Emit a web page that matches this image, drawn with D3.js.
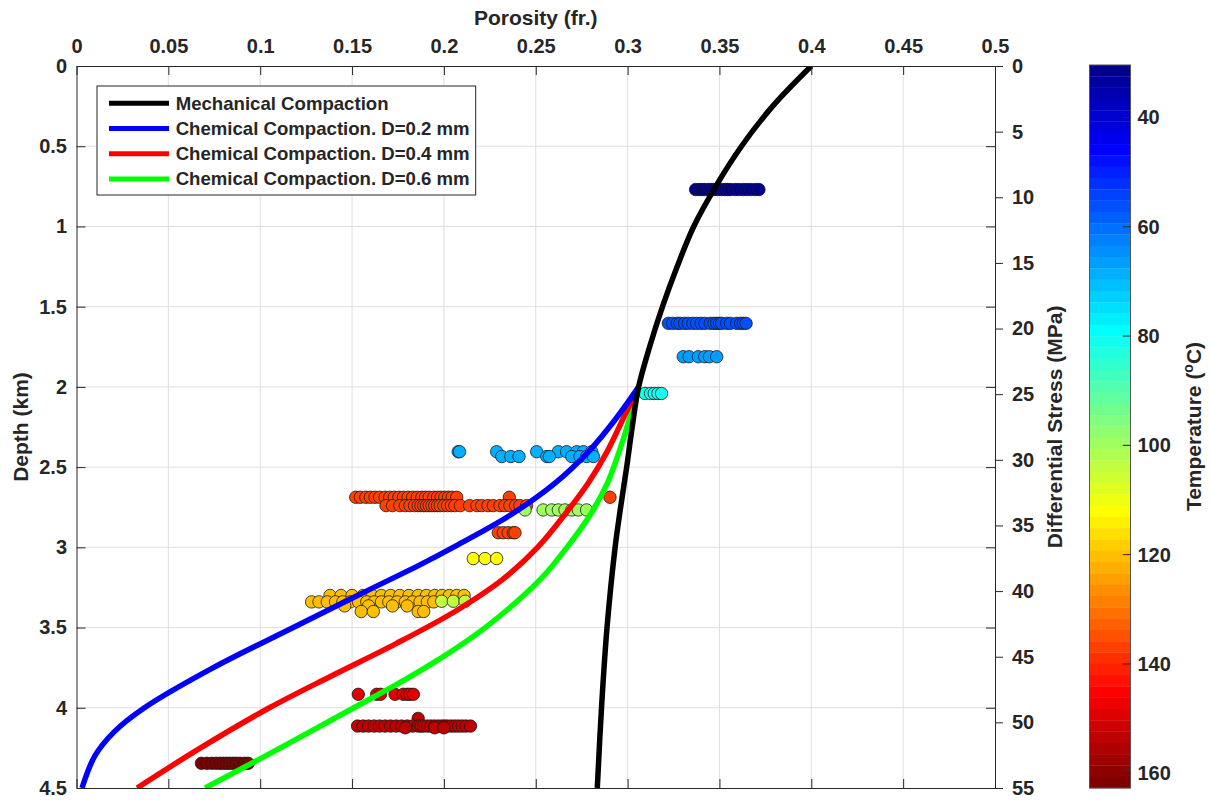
<!DOCTYPE html>
<html>
<head>
<meta charset="utf-8">
<script src="https://cdn.jsdelivr.net/npm/d3@7"></script>
<style>
  body { margin: 0; background: #fff; }
  text { font-family: "Liberation Sans", Arial, Helvetica, sans-serif; font-weight: bold; fill: #262626; }
</style>
</head>
<body>
<svg id="chart" width="1210" height="800"></svg>
<script>
// ---- Axis ticks ----
const porosityTicks = [0, 0.05, 0.1, 0.15, 0.2, 0.25, 0.3, 0.35, 0.4, 0.45, 0.5];
const depthTicks = [0, 0.5, 1, 1.5, 2, 2.5, 3, 3.5, 4, 4.5];
const stressTicks = [0, 5, 10, 15, 20, 25, 30, 35, 40, 45, 50, 55];
const temperatureTicks = [40, 60, 80, 100, 120, 140, 160];

// ---- Compaction trends (depth in km, porosity in fr.) ----
const mechDepth    = [0, 0.25, 0.5, 0.75, 1.0, 1.25, 1.5, 1.75, 2.0, 2.25, 2.5, 2.75, 3.0, 3.5, 4.0, 4.5];
const mechPorosity = [0.400, 0.379, 0.362, 0.348, 0.336, 0.327, 0.319, 0.312, 0.306, 0.3025, 0.2995, 0.2962, 0.2932, 0.2888, 0.2858, 0.2835];

const chem02Depth    = [2.0, 2.2, 2.4, 2.6, 2.8, 3.0, 3.1, 3.3, 3.5, 3.75, 4.0, 4.15, 4.3, 4.5];
const chem02Porosity = [0.306, 0.2935, 0.279, 0.2605, 0.236, 0.205, 0.1885, 0.153, 0.118, 0.0745, 0.037, 0.0205, 0.010, 0.003];

const chem04Depth    = [2.0, 2.2, 2.4, 2.6, 2.8, 3.0, 3.2, 3.4, 3.6, 3.8, 4.0, 4.25, 4.5];
const chem04Porosity = [0.306, 0.2975, 0.289, 0.2785, 0.2655, 0.251, 0.232, 0.206, 0.174, 0.139, 0.105, 0.0675, 0.033];

const chem06Depth    = [2.0, 2.2, 2.4, 2.6, 2.8, 3.0, 3.2, 3.5, 3.7, 3.85, 4.0, 4.25, 4.5];
const chem06Porosity = [0.306, 0.301, 0.2955, 0.289, 0.2795, 0.267, 0.2525, 0.2225, 0.197, 0.175, 0.151, 0.111, 0.070];

// ---- Core samples, grouped in rows of equal depth and temperature ----
const sampleRowDepth       = [0.770, 1.604, 1.812, 2.041, 2.404, 2.434, 2.688, 2.740, 2.767, 2.909, 3.070,
                              3.300, 3.340, 3.336, 3.365, 3.400, 3.916, 4.066, 4.114, 4.125, 4.346];
const sampleRowTemperature = [32, 57, 67, 81, 69, 69.5, 137, 136.5, 100, 137, 112,
                              120, 121, 104, 120, 121, 149, 153, 153, 154, 162];
const sampleRowPorosity = [
  [0.3370, 0.3390, 0.3405, 0.3420, 0.3440, 0.3455, 0.3470, 0.3490, 0.3510, 0.3530, 0.3545, 0.3560, 0.3585, 0.3605, 0.3630, 0.3650, 0.3670, 0.3695, 0.3715],
  [0.3222, 0.3245, 0.3270, 0.3285, 0.3310, 0.3330, 0.3355, 0.3376, 0.3400, 0.3421, 0.3450, 0.3470, 0.3485, 0.3500, 0.3512, 0.3540, 0.3560, 0.3594, 0.3615, 0.3630, 0.3645],
  [0.3303, 0.3335, 0.3385, 0.3420, 0.3445, 0.3485],
  [0.3095, 0.3125, 0.3145, 0.3165, 0.3185],
  [0.2078, 0.2085, 0.2287, 0.2505, 0.2623, 0.2668, 0.2723, 0.2759, 0.2805],
  [0.2315, 0.2364, 0.2409, 0.2560, 0.2574, 0.2696, 0.2741, 0.2777, 0.2814],
  [0.1520, 0.1545, 0.1575, 0.1600, 0.1625, 0.1650, 0.1680, 0.1705, 0.1730, 0.1755, 0.1780, 0.1805, 0.1830, 0.1855, 0.1880, 0.1900, 0.1920, 0.1945, 0.1965, 0.1985, 0.2005, 0.2025, 0.2045, 0.2070, 0.2356, 0.2904],
  [0.1685, 0.1720, 0.1760, 0.1790, 0.1815, 0.1840, 0.1860, 0.1875, 0.1890, 0.1905, 0.1920, 0.1935, 0.1950, 0.1965, 0.1980, 0.2000, 0.2020, 0.2040, 0.2060, 0.2090, 0.2140, 0.2180, 0.2206, 0.2240, 0.2269, 0.2305, 0.2332, 0.2359, 0.2390, 0.2414, 0.2450],
  [0.2442, 0.2540, 0.2587, 0.2623, 0.2659, 0.2696, 0.2732, 0.2777],
  [0.2296, 0.2323, 0.2350, 0.2378, 0.2387],
  [0.2160, 0.2224, 0.2287],
  [0.1380, 0.1440, 0.1500, 0.1560, 0.1610, 0.1660, 0.1710, 0.1760, 0.1810, 0.1860, 0.1905, 0.1950, 0.1990, 0.2030, 0.2070, 0.2110],
  [0.1280, 0.1320, 0.1365, 0.1410, 0.1450, 0.1490, 0.1535, 0.1580, 0.1620, 0.1660, 0.1700, 0.1745, 0.1790, 0.1830, 0.1870, 0.1910, 0.1945],
  [0.1988, 0.2051, 0.2115],
  [0.1460, 0.1590, 0.1720, 0.1800],
  [0.1550, 0.1616, 0.1860, 0.1890],
  [0.1534, 0.1634, 0.1655, 0.1734, 0.1779, 0.1800, 0.1815, 0.1834],
  [0.1860],
  [0.1530, 0.1560, 0.1590, 0.1620, 0.1650, 0.1680, 0.1710, 0.1740, 0.1770, 0.1800, 0.1830, 0.1860, 0.1875, 0.1890, 0.1910, 0.1930, 0.1950, 0.1970, 0.1990, 0.2005, 0.2020, 0.2040, 0.2060, 0.2080, 0.2100, 0.2120, 0.2145],
  [0.1790, 0.1950, 0.2000],
  [0.0680, 0.0710, 0.0736, 0.0760, 0.0781, 0.0800, 0.0818, 0.0835, 0.0854, 0.0870, 0.0890, 0.0915, 0.0935]
];

const temperatureLimits = [30.4, 162.7];

const legendLabels = ["Mechanical Compaction", "Chemical Compaction. D=0.2 mm",
                      "Chemical Compaction. D=0.4 mm", "Chemical Compaction. D=0.6 mm"];
const trendColors = ["#000000", "#0000ff", "#ff0000", "#00ff00"];

// ---- Layout ----
const plot = { left: 76.5, right: 995, top: 66, bottom: 788 };
const cbar = { left: 1089.5, right: 1130.5, top: 65, bottom: 788 };
const AXIS = "#262626";

const svg = d3.select("#chart");

const x = d3.scaleLinear().domain([0, 0.5]).range([plot.left, plot.right]);
const y = d3.scaleLinear().domain([0, 4.5]).range([plot.top, plot.bottom]);
const yStress = d3.scaleLinear().domain([0, 55]).range([plot.top, plot.bottom]);
const yTemp = d3.scaleLinear().domain(temperatureLimits).range([cbar.top, cbar.bottom]);

// MATLAB-style jet colormap with m entries
function jetColormap(m) {
  const n = Math.ceil(m / 4);
  const u = [];
  for (let j = 1; j <= n; j++) u.push(j / n);
  for (let j = 1; j < n; j++) u.push(1);
  for (let j = n; j >= 1; j--) u.push(j / n);
  const off = Math.ceil(n / 2) - (m % 4 === 1 ? 1 : 0);
  const val = i => (i >= 1 && i <= u.length) ? u[i - 1] : 0;
  const cols = [];
  for (let k = 1; k <= m; k++) {
    cols.push(d3.rgb(Math.round(255 * val(k - off - n)), Math.round(255 * val(k - off)), Math.round(255 * val(k - off + n))).formatHex());
  }
  return cols;
}
const jet = jetColormap(64);
const tempColor = t => {
  const f = (t - temperatureLimits[0]) / (temperatureLimits[1] - temperatureLimits[0]);
  return jet[Math.max(0, Math.min(63, Math.floor(f * 64)))];
};

// ---- Grid ----
const grid = svg.append("g").attr("stroke", "#dfdfdf").attr("stroke-width", 1);
grid.selectAll("line.gx").data(porosityTicks.slice(1, -1)).join("line")
  .attr("x1", d => x(d)).attr("x2", d => x(d)).attr("y1", plot.top).attr("y2", plot.bottom);
grid.selectAll("line.gy").data(depthTicks.slice(1, -1)).join("line")
  .attr("x1", plot.left).attr("x2", plot.right).attr("y1", d => y(d)).attr("y2", d => y(d));

// ---- Clip ----
svg.append("clipPath").attr("id", "plotClip").append("rect")
  .attr("x", plot.left).attr("y", plot.top)
  .attr("width", plot.right - plot.left).attr("height", plot.bottom - plot.top);

const plotG = svg.append("g").attr("clip-path", "url(#plotClip)");

// ---- Samples ----
const samples = [];
sampleRowPorosity.forEach((row, i) => {
  row.forEach(p => samples.push({ p, d: sampleRowDepth[i], t: sampleRowTemperature[i] }));
});
plotG.append("g").selectAll("circle").data(samples).join("circle")
  .attr("cx", s => x(s.p)).attr("cy", s => y(s.d)).attr("r", 6.2)
  .attr("fill", s => tempColor(s.t))
  .attr("stroke", "#1a1a1a").attr("stroke-width", 0.8);

// ---- Trend curves ----
const trends = [
  { depth: mechDepth, por: mechPorosity },
  { depth: chem02Depth, por: chem02Porosity },
  { depth: chem04Depth, por: chem04Porosity },
  { depth: chem06Depth, por: chem06Porosity }
];
const line = d3.line().x(d => x(d[0])).y(d => y(d[1])).curve(d3.curveCatmullRom.alpha(0.5));
// chemical curves first, mechanical on top
[3, 2, 1, 0].forEach(i => {
  const tr = trends[i];
  plotG.append("path")
    .attr("d", line(tr.depth.map((z, k) => [tr.por[k], z])))
    .attr("fill", "none").attr("stroke", trendColors[i]).attr("stroke-width", 5.5);
});

// ---- Axes ----
const fmt = d => String(d);
const topAxis = svg.append("g").attr("transform", `translate(0,${plot.top})`)
  .call(d3.axisTop(x).tickValues(porosityTicks).tickFormat(fmt).tickSizeInner(-9).tickSizeOuter(0).tickPadding(13));
const bottomAxis = svg.append("g").attr("transform", `translate(0,${plot.bottom})`)
  .call(d3.axisBottom(x).tickValues(porosityTicks).tickFormat("").tickSizeInner(-9).tickSizeOuter(0));
const leftAxis = svg.append("g").attr("transform", `translate(${plot.left},0)`)
  .call(d3.axisLeft(y).tickValues(depthTicks).tickFormat(fmt).tickSizeInner(-9).tickSizeOuter(0).tickPadding(9.5));
const rightInner = svg.append("g").attr("transform", `translate(${plot.right},0)`)
  .call(d3.axisRight(y).tickValues(depthTicks).tickFormat("").tickSizeInner(-9).tickSizeOuter(0));
const rightAxis = svg.append("g").attr("transform", `translate(${plot.right},0)`)
  .call(d3.axisRight(yStress).tickValues(stressTicks).tickFormat(fmt).tickSizeInner(8).tickSizeOuter(0).tickPadding(9));

[topAxis, bottomAxis, leftAxis, rightInner, rightAxis].forEach(g => {
  g.select(".domain").attr("stroke", AXIS).attr("stroke-width", 1);
  g.selectAll(".tick line").attr("stroke", AXIS).attr("stroke-width", 1);
  g.selectAll(".tick text").attr("font-size", 20).attr("fill", AXIS)
    .attr("font-family", '"Liberation Sans", Arial, sans-serif').attr("font-weight", "bold");
});

// ---- Axis titles ----
svg.append("text").attr("x", (plot.left + plot.right) / 2).attr("y", 25)
  .attr("text-anchor", "middle").attr("font-size", 21).text("Porosity (fr.)");
svg.append("text").attr("transform", `translate(28,${(plot.top + plot.bottom) / 2}) rotate(-90)`)
  .attr("text-anchor", "middle").attr("font-size", 21).text("Depth (km)");
svg.append("text").attr("transform", `translate(1062,${(plot.top + plot.bottom) / 2}) rotate(-90)`)
  .attr("text-anchor", "middle").attr("font-size", 21).text("Differential Stress (MPa)");

// ---- Legend ----
const legend = svg.append("g");
const legendBox = legend.append("rect").attr("x", 97).attr("y", 86).attr("height", 109)
  .attr("fill", "#fff").attr("stroke", AXIS).attr("stroke-width", 1);
let maxLen = 0;
legendLabels.forEach((lab, i) => {
  const cy = 103.3 + i * 25.2;
  legend.append("line").attr("x1", 109).attr("x2", 169).attr("y1", cy).attr("y2", cy)
    .attr("stroke", trendColors[i]).attr("stroke-width", 5);
  const t = legend.append("text").attr("x", 175.7).attr("y", cy).attr("dy", "0.35em")
    .attr("font-size", 18.6).attr("fill", "#000").text(lab);
  maxLen = Math.max(maxLen, t.node().getComputedTextLength());
});
legendBox.attr("width", 175.7 + maxLen + 6 - 97);

// ---- Colorbar ----
const cb = svg.append("g");
const step = (temperatureLimits[1] - temperatureLimits[0]) / 64;
cb.selectAll("rect.band").data(jet).join("rect")
  .attr("x", cbar.left).attr("width", cbar.right - cbar.left)
  .attr("y", (c, i) => yTemp(temperatureLimits[0] + i * step))
  .attr("height", (c, i) => yTemp(temperatureLimits[0] + (i + 1) * step) - yTemp(temperatureLimits[0] + i * step) + 0.3)
  .attr("fill", c => c);
cb.append("rect").attr("x", cbar.left).attr("y", cbar.top)
  .attr("width", cbar.right - cbar.left).attr("height", cbar.bottom - cbar.top)
  .attr("fill", "none").attr("stroke", "#555").attr("stroke-width", 1);
cb.selectAll("line.ct").data(temperatureTicks).join("line")
  .attr("x1", cbar.right - 7.7).attr("x2", cbar.right)
  .attr("y1", d => yTemp(d)).attr("y2", d => yTemp(d))
  .attr("stroke", AXIS).attr("stroke-width", 1);
cb.selectAll("text.cl").data(temperatureTicks).join("text")
  .attr("x", cbar.right + 7).attr("y", d => yTemp(d)).attr("dy", "0.35em")
  .attr("font-size", 20).text(d => d);

const cbTitle = svg.append("text")
  .attr("transform", `translate(1201,${(cbar.top + cbar.bottom) / 2}) rotate(-90)`)
  .attr("text-anchor", "middle").attr("font-size", 21);
cbTitle.append("tspan").text("Temperature (");
cbTitle.append("tspan").attr("font-size", 14).attr("dy", -8).text("o");
cbTitle.append("tspan").attr("dy", 8).text("C)");
</script>
</body>
</html>
